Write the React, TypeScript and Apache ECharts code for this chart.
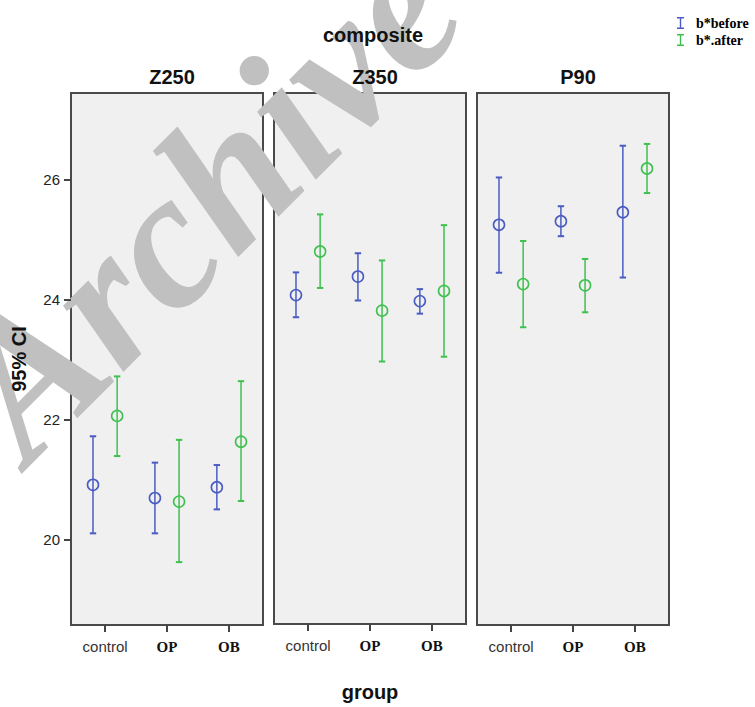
import React, { useEffect, useRef } from "react";
import * as echarts from "echarts";

const groups = ["control", "OP", "OB"];
const panels = ["Z250", "Z350", "P90"];
const seriesNames = ["b*before", "b*.after"];

// Z250
const z250BeforeMean = [20.91, 20.69, 20.87];
const z250BeforeLow = [20.1, 20.1, 20.5];
const z250BeforeHigh = [21.72, 21.28, 21.24];
const z250AfterMean = [22.06, 20.63, 21.63];
const z250AfterLow = [21.39, 19.62, 20.64];
const z250AfterHigh = [22.72, 21.66, 22.64];
// Z350
const z350BeforeMean = [24.07, 24.38, 23.97];
const z350BeforeLow = [23.7, 23.98, 23.76];
const z350BeforeHigh = [24.45, 24.77, 24.17];
const z350AfterMean = [24.8, 23.81, 24.14];
const z350AfterLow = [24.19, 22.96, 23.04];
const z350AfterHigh = [25.42, 24.65, 25.24];
// P90
const p90BeforeMean = [25.25, 25.31, 25.46];
const p90BeforeLow = [24.45, 25.06, 24.37];
const p90BeforeHigh = [26.04, 25.56, 26.57];
const p90AfterMean = [24.26, 24.24, 26.19];
const p90AfterLow = [23.54, 23.79, 25.78];
const p90AfterHigh = [24.98, 24.68, 26.6];

const yTicks = [20, 22, 24, 26];

const panelData = [
  {
    before: [z250BeforeLow, z250BeforeMean, z250BeforeHigh],
    after: [z250AfterLow, z250AfterMean, z250AfterHigh],
  },
  {
    before: [z350BeforeLow, z350BeforeMean, z350BeforeHigh],
    after: [z350AfterLow, z350AfterMean, z350AfterHigh],
  },
  {
    before: [p90BeforeLow, p90BeforeMean, p90BeforeHigh],
    after: [p90AfterLow, p90AfterMean, p90AfterHigh],
  },
];

const BLUE = "#4a5cc2";
const GREEN = "#3fc04f";

function makeRender(offset: number) {
  return (params: any, api: any) => {
    const x0 = api.value(0) + offset;
    const lo = api.coord([x0, api.value(1)]);
    const m = api.coord([x0, api.value(2)]);
    const hi = api.coord([x0, api.value(3)]);
    const color = api.visual("color");
    const cap = 3.2;
    return {
      type: "group",
      children: [
        { type: "line", shape: { x1: lo[0], y1: lo[1], x2: hi[0], y2: hi[1] }, style: { stroke: color, lineWidth: 1.5 } },
        { type: "line", shape: { x1: lo[0] - cap, y1: lo[1], x2: lo[0] + cap, y2: lo[1] }, style: { stroke: color, lineWidth: 2 } },
        { type: "line", shape: { x1: hi[0] - cap, y1: hi[1], x2: hi[0] + cap, y2: hi[1] }, style: { stroke: color, lineWidth: 2 } },
        { type: "circle", shape: { cx: m[0], cy: m[1], r: 5.5 }, style: { stroke: color, fill: "none", lineWidth: 1.6 } },
      ],
    };
  };
}

export default function App() {
  const ref = useRef<HTMLDivElement>(null);
  useEffect(() => {
    if (!ref.current) return;
    const chart = echarts.init(ref.current, undefined, { renderer: "svg" });
    const gridLefts = [71, 274, 477];
    const grids = gridLefts.map((l) => ({
      left: l,
      top: 93,
      width: 192,
      height: 532,
      show: true,
      backgroundColor: "#f0f0f0",
      borderColor: "#4a4a4a",
      borderWidth: 2,
    }));
    const xAxes = gridLefts.map((_, i) => ({
      type: "value",
      gridIndex: i,
      min: -0.55,
      max: 2.55,
      z: 10,
      axisLine: { show: false, onZero: false },
      splitLine: { show: false },
      axisTick: { show: true, customValues: [0, 1, 2], length: 7, lineStyle: { color: "#444", width: 2 } },
      axisLabel: {
        show: true,
        customValues: [0, 1, 2],
        margin: 14,
        formatter: (v: number) => {
          const n = groups[Math.round(v)];
          return n === "control" ? `{s|${n}}` : `{b|${n}}`;
        },
        rich: {
          s: { fontFamily: "Liberation Sans", fontSize: 15, color: "#333" },
          b: { fontFamily: "Liberation Serif", fontWeight: "bold", fontSize: 15, color: "#111" },
        },
      },
      name: i === 1 ? "group" : "",
      nameLocation: "middle",
      nameGap: 58,
      nameTextStyle: { fontFamily: "Liberation Sans", fontWeight: "bold", fontSize: 20, color: "#111" },
    }));
    const yAxes = gridLefts.map((_, i) => ({
      type: "value",
      gridIndex: i,
      min: 18.57,
      max: 27.45,
      z: 10,
      axisLine: { show: false, onZero: false },
      splitLine: { show: false },
      axisTick: { show: i === 0, customValues: yTicks, length: 7, lineStyle: { color: "#444", width: 2 } },
      axisLabel: {
        show: i === 0,
        customValues: yTicks,
        margin: 11,
        fontFamily: "Liberation Sans",
        fontSize: 15,
        color: "#222",
      },
      name: i === 0 ? "95% CI" : "",
      nameLocation: "middle",
      nameRotate: 90,
      nameGap: 42,
      nameTextStyle: { fontFamily: "Liberation Sans", fontWeight: "bold", fontSize: 20, color: "#111" },
    }));
    const series: any[] = [];
    panelData.forEach((p, i) => {
      series.push({
        type: "custom",
        name: seriesNames[0],
        xAxisIndex: i,
        yAxisIndex: i,
        itemStyle: { color: BLUE },
        renderItem: makeRender(-0.195),
        data: groups.map((_, k) => [k, p.before[0][k], p.before[1][k], p.before[2][k]]),
        encode: { x: 0, y: [1, 2, 3] },
      });
      series.push({
        type: "custom",
        name: seriesNames[1],
        xAxisIndex: i,
        yAxisIndex: i,
        itemStyle: { color: GREEN },
        renderItem: makeRender(0.195),
        data: groups.map((_, k) => [k, p.after[0][k], p.after[1][k], p.after[2][k]]),
        encode: { x: 0, y: [1, 2, 3] },
      });
    });
    const titleStyle = { fontFamily: "Liberation Sans", fontWeight: "bold", fontSize: 20, color: "#111" };
    const option: any = {
      animation: false,
      backgroundColor: "#ffffff",
      title: [
        { text: "composite", left: 368, top: 20, z: 10, textAlign: "center", textStyle: titleStyle },
        ...panels.map((p, i) => ({
          text: p,
          left: gridLefts[i] + 96,
          top: 62,
          z: 10,
          textAlign: "center",
          textStyle: titleStyle,
        })),
      ],
      legend: {
        data: seriesNames,
        orient: "vertical",
        left: 672,
        top: 11,
        z: 10,
        itemWidth: 7,
        itemHeight: 12,
        itemGap: 3,
        icon: "path://M0,0H7V1.5H4.2V10.5H7V12H0V10.5H2.8V1.5H0Z",
        textStyle: {
          fontFamily: "Liberation Serif",
          fontWeight: "bold",
          fontSize: 14,
          color: "#000",
          padding: [0, 0, 0, 7],
        },
      },
      grid: grids,
      xAxis: xAxes,
      yAxis: yAxes,
      series,
      graphic: [
        {
          type: "text",
          x: -18,
          y: 420,
          rotation: Math.PI / 4,
          z: 5,
          silent: true,
          style: {
            text: "Archive",
            fontFamily: "Liberation Serif",
            fontWeight: "bold",
            fontStyle: "italic",
            fontSize: 195,
            fill: "#c0c0c0",
            align: "left",
            verticalAlign: "middle",
          },
        },
      ],
    };
    chart.setOption(option);
    return () => chart.dispose();
  }, []);
  return (
    <div
      ref={ref}
      style={{ position: "fixed", left: 0, top: 0, width: 755, height: 707 }}
    />
  );
}
